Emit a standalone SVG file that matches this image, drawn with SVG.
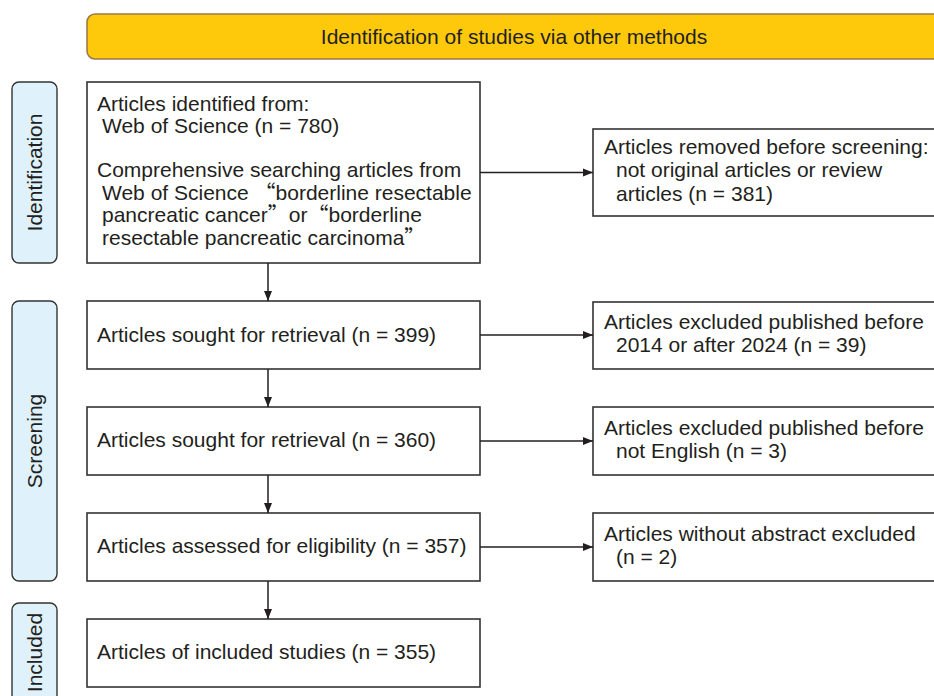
<svg xmlns="http://www.w3.org/2000/svg" width="934" height="696" viewBox="0 0 934 696">
<defs>
<style>
text{font-family:"Liberation Sans",Arial,"Noto Sans CJK SC",sans-serif;font-size:21px;fill:#231f20;}
.q{font-family:"Noto Sans CJK SC","Liberation Sans",sans-serif;}
.box{fill:#ffffff;stroke:#333333;stroke-width:1.6;}
.lab{fill:#dff1fb;stroke:#333333;stroke-width:1.4;}
.ban{fill:#ffc90b;stroke:#9b7a4e;stroke-width:1.6;}
.con{stroke:#231f20;stroke-width:1.5;fill:none;}
</style>
<marker id="ah" viewBox="0 0 10 10" refX="10" refY="5" markerWidth="10" markerHeight="10" markerUnits="userSpaceOnUse" orient="auto">
<path d="M0,1 L10,5 L0,9 Z" fill="#231f20"/>
</marker>
</defs>
<rect width="934" height="696" fill="#ffffff"/>

<g id="banner">
<rect class="ban" x="87" y="14" width="870" height="45" rx="8"/>
<text x="514" y="44" text-anchor="middle">Identification of studies via other methods</text>
</g>

<g id="label-identification">
<rect class="lab" x="12" y="82" width="45" height="181" rx="7"/>
<text transform="translate(42,172.5) rotate(-90)" text-anchor="middle">Identification</text>
</g>
<g id="label-screening">
<rect class="lab" x="12" y="301" width="45" height="280" rx="7"/>
<text transform="translate(42,441) rotate(-90)" text-anchor="middle">Screening</text>
</g>
<g id="label-included">
<rect class="lab" x="12" y="603" width="45" height="110" rx="7"/>
<text transform="translate(42,652.5) rotate(-90)" text-anchor="middle">Included</text>
</g>

<g id="n-identified">
<rect class="box" x="87" y="82" width="393" height="181"/>
<text x="97" y="110.5">Articles identified from:</text>
<text x="102" y="133">Web of Science (n = 780)</text>
<text x="97" y="177">Comprehensive searching articles from</text>
<text x="102" y="199.5">Web of Science <tspan class="q">“</tspan>borderline resectable</text>
<text x="102" y="222">pancreatic cancer<tspan class="q">”</tspan>or<tspan class="q">“</tspan>borderline</text>
<text x="102" y="244.5">resectable pancreatic carcinoma<tspan class="q">”</tspan></text>
</g>

<g id="n-removed">
<rect class="box" x="593" y="129" width="360" height="87"/>
<text x="604" y="154">Articles removed before screening:</text>
<text x="616" y="177">not original articles or review</text>
<text x="616" y="200.5">articles (n = 381)</text>
</g>

<g id="n-sought399">
<rect class="box" x="87" y="301" width="393" height="68"/>
<text x="97" y="342">Articles sought for retrieval (n = 399)</text>
</g>
<g id="n-excl-date">
<rect class="box" x="593" y="302" width="360" height="67"/>
<text x="604" y="328.5">Articles excluded published before</text>
<text x="616" y="352">2014 or after 2024 (n = 39)</text>
</g>

<g id="n-sought360">
<rect class="box" x="87" y="407" width="393" height="68"/>
<text x="97" y="447">Articles sought for retrieval (n = 360)</text>
</g>
<g id="n-excl-lang">
<rect class="box" x="593" y="407" width="360" height="68"/>
<text x="604" y="434.5">Articles excluded published before</text>
<text x="616" y="457.5">not English (n = 3)</text>
</g>

<g id="n-assessed">
<rect class="box" x="87" y="513" width="393" height="68"/>
<text x="97" y="553">Articles assessed for eligibility (n = 357)</text>
</g>
<g id="n-excl-abstract">
<rect class="box" x="593" y="513" width="360" height="68"/>
<text x="604" y="540.5">Articles without abstract excluded</text>
<text x="616" y="563.5">(n = 2)</text>
</g>

<g id="n-included">
<rect class="box" x="87" y="619" width="393" height="68"/>
<text x="97" y="659">Articles of included studies (n = 355)</text>
</g>

<g id="connectors">
<line class="con" x1="268" y1="263" x2="268" y2="301" marker-end="url(#ah)"/>
<line class="con" x1="268" y1="369" x2="268" y2="407" marker-end="url(#ah)"/>
<line class="con" x1="268" y1="475" x2="268" y2="513" marker-end="url(#ah)"/>
<line class="con" x1="268" y1="581" x2="268" y2="619" marker-end="url(#ah)"/>
<line class="con" x1="480" y1="172.5" x2="593" y2="172.5" marker-end="url(#ah)"/>
<line class="con" x1="480" y1="335" x2="593" y2="335" marker-end="url(#ah)"/>
<line class="con" x1="480" y1="441" x2="593" y2="441" marker-end="url(#ah)"/>
<line class="con" x1="480" y1="547" x2="593" y2="547" marker-end="url(#ah)"/>
</g>
</svg>
